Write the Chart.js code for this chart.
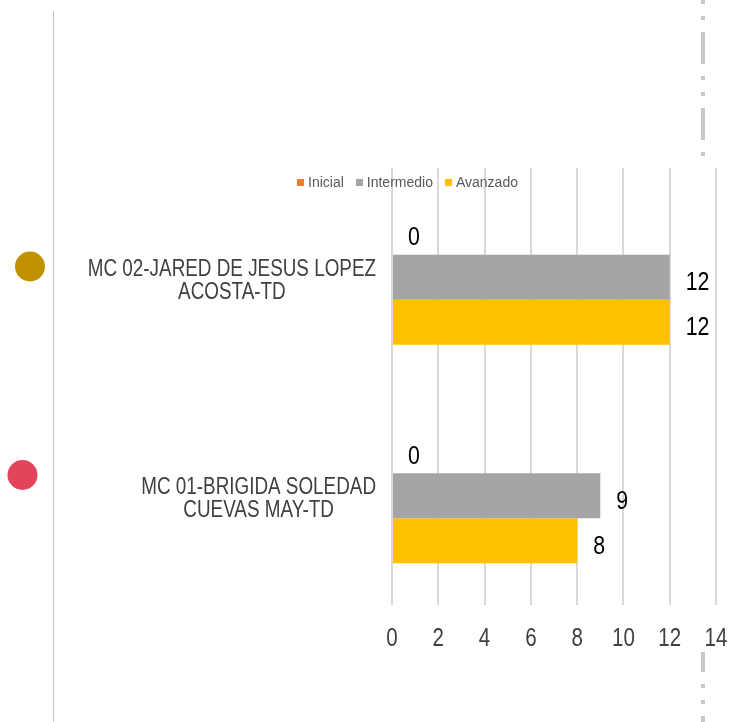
<!DOCTYPE html>
<html lang="es">
<head>
<meta charset="utf-8">
<title>Nivel por docente</title>
<script src="https://cdn.jsdelivr.net/npm/chart.js@4.4.1/dist/chart.umd.min.js"></script>
<style>
  html, body { margin: 0; padding: 0; background: #fff; }
  #wrap { position: relative; width: 733px; height: 722px; overflow: hidden; }
  #legend {
    position: absolute; left: 297px; top: 174px;
    display: flex; align-items: center;
    font: 14px 'Liberation Sans', Arial, sans-serif; color: #595959;
  }
  #legend span.item { display: flex; align-items: center; margin-right: 12px; }
  #legend span.box { width: 7px; height: 7px; margin-right: 4px; }
</style>
</head>
<body>
<div id="wrap">
  <canvas id="chart" width="733" height="722"></canvas>
  <div id="legend"></div>
</div>
<script>
  const FONT = "'Liberation Sans', Arial, sans-serif";
  const SQUEEZE = 0.82; // narrow face look

  // Categories (two-line labels), top to bottom
  const categories = [
    ['MC 02-JARED DE JESUS LOPEZ', 'ACOSTA-TD'],
    ['MC 01-BRIGIDA SOLEDAD', 'CUEVAS MAY-TD'],
  ];
  const seriesNames = ['Inicial', 'Intermedio', 'Avanzado'];
  const seriesColors = ['#ED7D31', '#A5A5A5', '#FFC000'];
  const inicial = [0, 0];
  const intermedio = [12, 9];
  const avanzado = [12, 8];
  const xMin = 0, xMax = 14, xStep = 2;

  // Legend built from the series names
  const legend = document.getElementById('legend');
  seriesNames.forEach((name, i) => {
    const item = document.createElement('span');
    item.className = 'item';
    const box = document.createElement('span');
    box.className = 'box';
    box.style.background = seriesColors[i];
    item.appendChild(box);
    item.appendChild(document.createTextNode(name));
    legend.appendChild(item);
  });

  // fillText with a horizontal squeeze, anchored at x
  function narrowText(ctx, text, x, y, align) {
    ctx.save();
    ctx.translate(x, y);
    ctx.scale(SQUEEZE, 1);
    ctx.textAlign = align;
    ctx.textBaseline = 'middle';
    ctx.fillText(text, 0, 0);
    ctx.restore();
  }

  // Side ornaments: thin rule, dash-dot rule and the two dots
  const ornaments = {
    id: 'ornaments',
    beforeDraw(chart) {
      const ctx = chart.ctx;
      ctx.save();
      ctx.strokeStyle = '#c4c4c4';
      ctx.lineWidth = 1;
      ctx.beginPath();
      ctx.moveTo(53.5, 11);
      ctx.lineTo(53.5, 722);
      ctx.stroke();

      ctx.strokeStyle = '#c8c8c8';
      ctx.lineWidth = 4;
      ctx.setLineDash([32, 12, 4, 12, 4, 12]);
      ctx.lineDashOffset = 44;
      ctx.beginPath();
      ctx.moveTo(703, 0);
      ctx.lineTo(703, 157);
      ctx.stroke();
      ctx.lineDashOffset = 12;
      ctx.beginPath();
      ctx.moveTo(703, 652);
      ctx.lineTo(703, 722);
      ctx.stroke();
      ctx.setLineDash([]);

      ctx.fillStyle = '#BF9000';
      ctx.beginPath();
      ctx.arc(30, 266.5, 15, 0, Math.PI * 2);
      ctx.fill();
      ctx.fillStyle = '#E2445C';
      ctx.beginPath();
      ctx.arc(22.5, 475, 15, 0, Math.PI * 2);
      ctx.fill();
      ctx.restore();
    }
  };

  // Axis labels drawn in the narrow style at the scales' own positions
  const axisLabels = {
    id: 'axisLabels',
    afterDraw(chart) {
      const ctx = chart.ctx;
      const xs = chart.scales.x, ys = chart.scales.y;
      ctx.save();
      ctx.fillStyle = '#404040';
      ctx.font = '25px ' + FONT;
      xs.ticks.forEach(t => {
        narrowText(ctx, String(t.value), xs.getPixelForValue(t.value), xs.top + 34, 'center');
      });
      ctx.font = '23px ' + FONT;
      const right = ys.right - 16;
      categories.forEach((lines, i) => {
        const py = ys.getPixelForValue(i);
        const widest = Math.max(...lines.map(l => ctx.measureText(l).width)) * SQUEEZE;
        const cx = right - widest / 2;
        lines.forEach((line, k) => {
          narrowText(ctx, line, cx, py - 8 + k * 23, 'center');
        });
      });
      ctx.restore();
    }
  };

  // Value labels at the end of each bar
  const valueLabels = {
    id: 'valueLabels',
    afterDatasetsDraw(chart) {
      const ctx = chart.ctx;
      ctx.save();
      ctx.font = '26px ' + FONT;
      ctx.fillStyle = '#000';
      chart.data.datasets.forEach((ds, i) => {
        chart.getDatasetMeta(i).data.forEach((bar, j) => {
          narrowText(ctx, String(ds.data[j]), bar.x + 16, bar.y + 6, 'left');
        });
      });
      ctx.restore();
    }
  };

  new Chart(document.getElementById('chart'), {
    type: 'bar',
    data: {
      labels: categories,
      datasets: [
        { label: seriesNames[0], data: inicial, backgroundColor: seriesColors[0] },
        { label: seriesNames[1], data: intermedio, backgroundColor: seriesColors[1] },
        { label: seriesNames[2], data: avanzado, backgroundColor: seriesColors[2] },
      ],
    },
    options: {
      indexAxis: 'y',
      responsive: false,
      animation: false,
      barPercentage: 1,
      categoryPercentage: 0.618,
      layout: { padding: { left: 0, right: 17, top: 168, bottom: 0 } },
      plugins: {
        legend: { display: false },
        tooltip: { enabled: false },
      },
      scales: {
        x: {
          min: xMin,
          max: xMax,
          border: { display: false },
          grid: { color: '#d9d9d9', lineWidth: 2, drawTicks: false },
          ticks: { stepSize: xStep, display: false },
          afterFit(scale) { scale.height = 117; },
        },
        y: {
          border: { display: false },
          grid: { display: false, drawTicks: false },
          ticks: { display: false },
          afterFit(scale) { scale.width = 392; },
        },
      },
    },
    plugins: [ornaments, axisLabels, valueLabels],
  });
</script>
</body>
</html>
